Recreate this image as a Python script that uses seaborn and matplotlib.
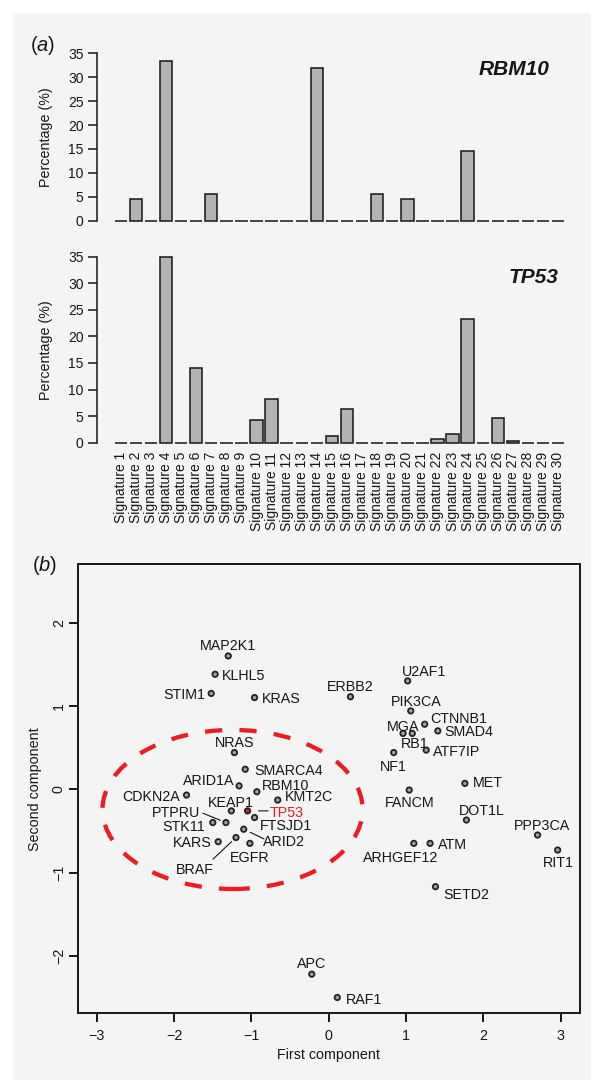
import numpy as np
import pandas as pd
import matplotlib.pyplot as plt
import seaborn as sns
from matplotlib.patches import Ellipse, Rectangle

# (a) share of each mutational signature (%)
signatures = ["Signature %d" % i for i in range(1, 31)]
rbm10_pct = [0, 4.54, 0, 33.39, 0, 0, 5.58, 0, 0, 0, 0, 0, 0, 31.93, 0,
             0, 0, 5.51, 0, 4.54, 0, 0, 0, 14.57, 0, 0, 0, 0, 0, 0]
tp53_pct = [0, 0, 0, 35.0, 0, 13.99, 0, 0, 0, 4.33, 8.28, 0, 0, 0, 1.25,
            6.40, 0, 0, 0, 0, 0, 0.63, 1.57, 23.27, 0, 4.64, 0.31, 0, 0, 0]

# (b) genes on the first two components
genes = ["MAP2K1", "KLHL5", "STIM1", "KRAS", "ERBB2", "U2AF1", "PIK3CA", "CTNNB1",
         "SMAD4", "MGA", "RB1", "ATF7IP", "NF1", "NRAS", "SMARCA4", "ARID1A",
         "RBM10", "CDKN2A", "MET", "FANCM", "KMT2C", "DOT1L", "TP53", "KEAP1",
         "FTSJD1", "PTPRU", "STK11", "PPP3CA", "ARID2", "BRAF", "KARS", "EGFR",
         "ARHGEF12", "ATM", "RIT1", "SETD2", "APC", "RAF1"]
pc1 = [-1.30, -1.47, -1.52, -0.96, 0.28, 1.02, 1.06, 1.24,
       1.41, 0.96, 1.08, 1.26, 0.84, -1.22, -1.08, -1.16,
       -0.93, -1.84, 1.76, 1.04, -0.66, 1.78, -1.05, -1.26,
       -0.96, -1.33, -1.50, 2.70, -1.10, -1.20, -1.43, -1.02,
       1.10, 1.31, 2.96, 1.38, -0.22, 0.11]
pc2 = [1.60, 1.38, 1.15, 1.10, 1.11, 1.30, 0.94, 0.78,
       0.70, 0.67, 0.67, 0.47, 0.44, 0.44, 0.24, 0.04,
       -0.03, -0.07, 0.07, -0.01, -0.13, -0.37, -0.26, -0.26,
       -0.34, -0.40, -0.40, -0.55, -0.48, -0.58, -0.63, -0.65,
       -0.65, -0.65, -0.73, -1.17, -2.22, -2.50]
focus_gene = "TP53"

# label placement (ha, dx px, dy px) relative to the point
label_pos = {
    "MAP2K1": ("center", 0, 11.7), "ERBB2": ("center", 0, 11.7),
    "U2AF1": ("center", 16.6, 10.3), "PIK3CA": ("center", 5.7, 10),
    "MGA": ("center", 0, 8), "RB1": ("center", 2, -9), "NF1": ("center", 0, -13),
    "NRAS": ("center", 0, 11.3), "KEAP1": ("center", -0.5, 9.2),
    "FANCM": ("center", 0, -11.3), "PPP3CA": ("center", 4, 11),
    "EGFR": ("center", 0, -13), "RIT1": ("center", 1, -11),
    "APC": ("center", 0, 11.3), "DOT1L": ("center", 15, 10.7),
    "KLHL5": ("left", 7.2, 0), "KRAS": ("left", 7.5, 0),
    "CTNNB1": ("left", 5.3, 6.3), "SMAD4": ("left", 6.8, 0),
    "ATF7IP": ("left", 6.8, -0.7), "SMARCA4": ("left", 9, -0.7),
    "RBM10": ("left", 5.5, 7.5), "KMT2C": ("left", 7.5, 4.3),
    "TP53": ("left", 22.2, -0.7), "FTSJD1": ("left", 5.5, -6.5),
    "MET": ("left", 8.3, 2.3), "ATM": ("left", 7.9, 0),
    "SETD2": ("left", 8.3, -7), "RAF1": ("left", 8.3, -0.7),
    "ARID2": ("left", 19.6, -11),
    "STIM1": ("right", -6, 0), "ARID1A": ("right", -5, 6.7),
    "CDKN2A": ("right", -6.4, 0), "STK11": ("right", -7.5, -2.8),
    "KARS": ("right", -7, -0.3), "PTPRU": ("right", -25.5, 10.8),
    "BRAF": ("right", -22.2, -30.7), "ARHGEF12": ("right", 24.9, -12.7),
}
# leader lines: start offset (px) and gap at the point (pt)
leaders = {"TP53": (20.5, 0, 7.9), "PTPRU": (-23, 9.3, 4.3),
           "ARID2": (20.3, -9.7, 5.3), "BRAF": (-23, -21.6, 4.2)}

W, H = 591, 1080
INK = "#161616"
RED = "#ec1c24"

sns.set_style("ticks")
plt.rcParams["font.family"] = ["Liberation Sans", "DejaVu Sans"]
plt.rcParams["mathtext.fontset"] = "custom"
plt.rcParams["mathtext.rm"] = "Liberation Sans"
plt.rcParams["mathtext.it"] = "Liberation Sans:italic"
plt.rcParams["text.color"] = INK
plt.rcParams["axes.labelcolor"] = INK
plt.rcParams["xtick.color"] = INK
plt.rcParams["ytick.color"] = INK


def box(left, top, right, bottom):
    return [left / W, 1 - bottom / H, (right - left) / W, (bottom - top) / H]


fig = plt.figure(figsize=(W / 100, H / 100), dpi=100)
fig.patch.set_facecolor("white")
fig.add_artist(Rectangle((12.7 / W, 0), 1, 1 - 12.7 / H, transform=fig.transFigure,
                         facecolor="#f4f4f4", edgecolor="none", zorder=-10))

ax_a = fig.add_axes(box(97.2, 46.6, 582.7, 227.4))
ax_b = fig.add_axes(box(97.2, 249.3, 582.7, 450.1))
ax_c = fig.add_axes(box(78.0, 564.3, 579.7, 1013.3))


def bar_panel(ax, values, gene, gx, gy, show_names):
    df = pd.DataFrame({"sig": signatures, "pct": values})
    sns.barplot(data=df, x="sig", y="pct", ax=ax, color="#b3b3b3", saturation=1,
                edgecolor=INK, linewidth=1.1, width=0.82, errorbar=None)
    ax.set_facecolor("none")
    ax.set_xlim(-1.565, 30.63)
    ax.set_ylim(-1.4, 36.4)
    ax.set_yticks(range(0, 36, 5))
    sns.despine(ax=ax, bottom=True)
    ax.spines["left"].set_bounds(0, 35)
    ax.spines["left"].set_linewidth(1.1)
    ax.spines["left"].set_color(INK)
    ax.tick_params(axis="y", length=6.3, width=1.1, labelsize=10, pad=3.5)
    ax.tick_params(axis="x", length=0, pad=1.2, labelsize=10, labelrotation=90)
    if not show_names:
        ax.set_xticklabels([])
    ax.set_xlabel("")
    ax.set_ylabel("Percentage (%)", fontsize=10.3)
    ax.yaxis.set_label_coords(-0.091, 0.5)
    ax.text(gx, gy, gene, transform=ax.transAxes, ha="right", va="baseline",
            fontsize=15, fontweight="bold", fontstyle="italic")


bar_panel(ax_a, rbm10_pct, "RBM10", 0.9306, 0.843, False)
bar_panel(ax_b, tp53_pct, "TP53", 0.949, 0.831, True)

# (b) scatter of the first two components
scat = pd.DataFrame({"gene": genes, "pc1": pc1, "pc2": pc2})
scat["group"] = np.where(scat["gene"] == focus_gene, "focus", "other")
ax_c.set_facecolor("none")
ax_c.add_patch(Ellipse((-1.244, -0.243), width=3.364, height=1.91, fill=False,
                       edgecolor=RED, linewidth=3.1, linestyle=(0, (4, 4)),
                       capstyle="butt", zorder=1))
sns.scatterplot(data=scat, x="pc1", y="pc2", hue="group",
                palette={"other": "#a3a3a3", "focus": RED}, s=15,
                edgecolor="#222222", linewidth=1.3, legend=False, ax=ax_c, zorder=3)

for g, x, y in zip(genes, pc1, pc2):
    ha, dx, dy = label_pos[g]
    ax_c.annotate(g, (x, y), xytext=(dx, dy), textcoords="offset pixels",
                  ha=ha, va="center_baseline", fontsize=10.3,
                  color=RED if g == focus_gene else INK)

for g, (sx, sy, gap) in leaders.items():
    i = genes.index(g)
    ax_c.annotate("", xy=(pc1[i], pc2[i]), xytext=(sx, sy), textcoords="offset pixels",
                  arrowprops=dict(arrowstyle="-", color=INK, lw=0.8,
                                  shrinkA=0, shrinkB=gap))

ax_c.set_xlim(-3.243, 3.245)
ax_c.set_ylim(-2.69, 2.70)
ax_c.set_xticks(range(-3, 4))
ax_c.set_yticks(range(-2, 3))
for side in ["left", "right", "top", "bottom"]:
    ax_c.spines[side].set_linewidth(1.4)
    ax_c.spines[side].set_color(INK)
ax_c.tick_params(axis="x", length=6.7, width=1.4, labelsize=10.3, pad=4.7)
ax_c.tick_params(axis="y", length=6.7, width=1.4, labelsize=10.3, pad=2)
for lab in ax_c.get_yticklabels():
    lab.set_rotation(90)
    lab.set_va("center")
    lab.set_ha("right")
ax_c.set_xlabel("First component", fontsize=10.3)
ax_c.xaxis.set_label_coords(0.5, -0.077)
ax_c.set_ylabel("Second component", fontsize=10.3)
ax_c.yaxis.set_label_coords(-0.072, 0.5)

fig.text(29.5 / W, 1 - 51 / H, r"($\mathit{a}$)", fontsize=14.5, ha="left", va="baseline")
fig.text(32 / W, 1 - 571 / H, r"($\mathit{b}$)", fontsize=14.5, ha="left", va="baseline")

fig.savefig("out.png", dpi=100)
